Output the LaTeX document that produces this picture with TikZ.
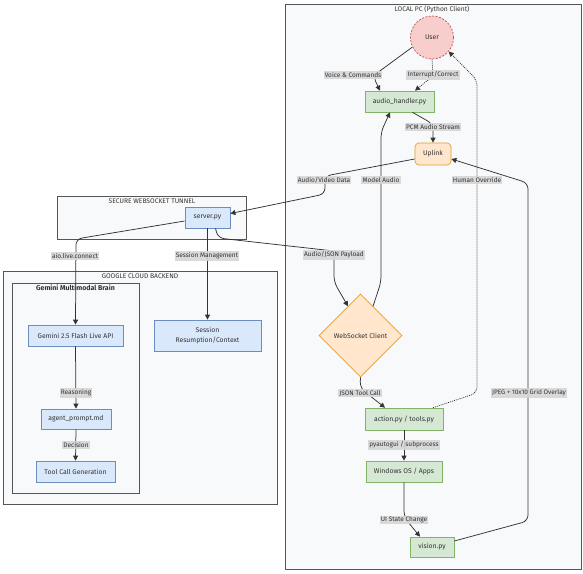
\documentclass[tikz,border=0pt]{standalone}
\usepackage{fontspec}
\setmainfont{Fira Sans}
\usetikzlibrary{shapes.geometric,arrows.meta,calc}
\definecolor{gfill}{HTML}{D5E8D4}
\definecolor{gline}{HTML}{82B366}
\definecolor{bfill}{HTML}{DAE8FC}
\definecolor{bline}{HTML}{6C8EBF}
\definecolor{ofill}{HTML}{FFE6CC}
\definecolor{oline}{HTML}{E0A030}
\definecolor{rfill}{HTML}{F8CECC}
\definecolor{rline}{HTML}{B85450}
\definecolor{cfill}{HTML}{F8F9FB}
\definecolor{cline}{HTML}{555555}
\definecolor{ink}{HTML}{333333}
\definecolor{lblfill}{HTML}{D6D6D6}
\tikzset{
  cluster/.style={draw=cline, fill=cfill, line width=0.7pt},
  ctitle/.style={font=\fontsize{6.7}{7.5}\selectfont, text=ink, inner sep=0pt},
  box/.style={rectangle, line width=0.7pt, inner sep=0pt, align=center, text=ink, font=\fontsize{6.8}{8.5}\selectfont},
  gbox/.style={box, draw=gline, fill=gfill},
  bbox/.style={box, draw=bline, fill=bfill},
  lbl/.style={fill=lblfill, fill opacity=0.9, text opacity=1, text=ink, inner xsep=1.2pt, inner ysep=1.3pt, font=\fontsize{6.5}{7.5}\selectfont},
  edge/.style={draw=ink, line width=0.75pt, rounded corners=6pt, -{Triangle[length=5pt,width=5pt]}},
  dotedge/.style={edge, dash pattern=on 1pt off 1pt},
}
\begin{document}
\begin{tikzpicture}[x=1pt,y=-1pt]
\useasboundingbox (0,0) rectangle (583,573);
\fill[white] (0,0) rectangle (583,573);
% clusters
\draw[cluster] (285,4) rectangle (581,569);
\node[ctitle] (tlocal) at (432,9) {LOCAL PC (Python Client)};
\draw[cluster] (57,196) rectangle (246,239);
\node[ctitle] (ttunnel) at (152,201) {SECURE WEBSOCKET TUNNEL};
\draw[cluster] (3,271) rectangle (277,504);
\node[ctitle] (tcloud) at (140,276) {GOOGLE CLOUD BACKEND};
\draw[cluster] (12,283) rectangle (139,493);
\node[ctitle, font=\fontsize{7}{8}\selectfont\bfseries] (tbrain) at (75.5,288) {Gemini Multimodal Brain};

% nodes
\node[circle, draw=rline, fill=rfill, dash pattern=on 2pt off 1.5pt, line width=0.7pt, minimum size=43pt, inner sep=0pt, text=ink, font=\fontsize{6.8}{8.5}\selectfont] (user) at (432,37.5) {User};
\node[gbox, minimum width=69pt, minimum height=21pt] (audio) at (399.5,101.5) {audio\_handler.py};
\node[box, draw=oline, fill=ofill, rounded corners=4pt, minimum width=36pt, minimum height=22pt] (uplink) at (433,154) {Uplink};
\node[diamond, aspect=1, draw=oline, fill=ofill, line width=0.7pt, minimum width=83pt, minimum height=83pt, inner sep=0pt, text=ink, font=\fontsize{6.8}{8.5}\selectfont] (ws) at (360.5,335.5) {WebSocket Client};
\node[gbox, minimum width=78pt, minimum height=22pt] (action) at (404,419) {action.py / tools.py};
\node[gbox, minimum width=76pt, minimum height=21pt] (win) at (404,471.5) {Windows OS / Apps};
\node[gbox, minimum width=44pt, minimum height=20pt] (vision) at (432,547) {vision.py};
\node[bbox, minimum width=45pt, minimum height=21pt] (server) at (207.5,217.5) {server.py};
\node[bbox, minimum width=95pt, minimum height=21pt] (gemini) at (75.5,335.5) {Gemini 2.5 Flash Live API};
\node[bbox, minimum width=107pt, minimum height=31pt, align=center] (session) at (207.5,335.5) {Session\\[1pt]Resumption/Context};
\node[bbox, minimum width=70pt, minimum height=20pt] (agent) at (76,419) {agent\_prompt.md};
\node[bbox, minimum width=79pt, minimum height=21pt] (tool) at (75.5,471.5) {Tool Call Generation};

% edges
\draw[edge] (user.206) -- (373,76) -- ([xshift=-19.5pt]audio.north);
\draw[dotedge] (user.south) -- (433,76) -- ([xshift=15.5pt]audio.north);
\draw[edge] ([xshift=13pt]audio.south) -- (433,124) -- (uplink.north);
\draw[edge] ([yshift=-5pt]uplink.west) -- (325,176) -- (325,194) -- ([yshift=4pt]server.east);
\draw[edge] ($(ws.north)!0.3!(ws.east)$) -- (381,282) -- (381,132) -- ([xshift=-9.5pt]audio.south);
\draw[dotedge] ([xshift=29pt]action.north) -- (477,393) -- (477,80) -- (user.320);
\draw[edge] ([yshift=6pt]vision.east) -- (528,521) -- (528,183) -- ([yshift=-5pt]uplink.east);
\draw[edge] ([yshift=-3.5pt]server.west) -- (76,239) -- (gemini.north);
\draw[edge] (server.south) -- (session.north);
\draw[edge] ([xshift=8pt]server.south) -- (218,238) -- (334,251) -- (334,282) -- ($(ws.north)!0.3!(ws.west)$);
\draw[edge] (gemini.south) -- (agent.north);
\draw[edge] (agent.south) -- (tool.north);
\draw[edge] (ws.south) -- (360,388) -- ([xshift=-19pt]action.north);
\draw[edge] (action.south) -- (win.north);
\draw[edge] (win.south) -- (404,517) -- ([xshift=-12pt]vision.north);

% labels
\node[lbl] (l1) at (353,75) {Voice \& Commands};
\node[lbl] (l2) at (433,75) {Interrupt/Correct};
\node[lbl] (l3) at (433,127) {PCM Audio Stream};
\node[lbl] (l4) at (324,180) {Audio/Video Data};
\node[lbl] (l5) at (381,180) {Model Audio};
\node[lbl] (l6) at (477,180) {Human Override};
\node[lbl] (l7) at (334,255) {Audio/JSON Payload};
\node[lbl] (l8) at (360,393) {JSON Tool Call};
\node[lbl] (l9) at (529,393) {JPEG + 10x10 Grid Overlay};
\node[lbl] (l10) at (404,445) {pyautogui / subprocess};
\node[lbl] (l11) at (404,520) {UI State Change};
\node[lbl] (l12) at (75,256) {aio.live.connect};
\node[lbl] (l13) at (207,256) {Session Management};
\node[lbl] (l14) at (76,393) {Reasoning};
\node[lbl] (l15) at (76,445) {Decision};
\end{tikzpicture}
\end{document}
